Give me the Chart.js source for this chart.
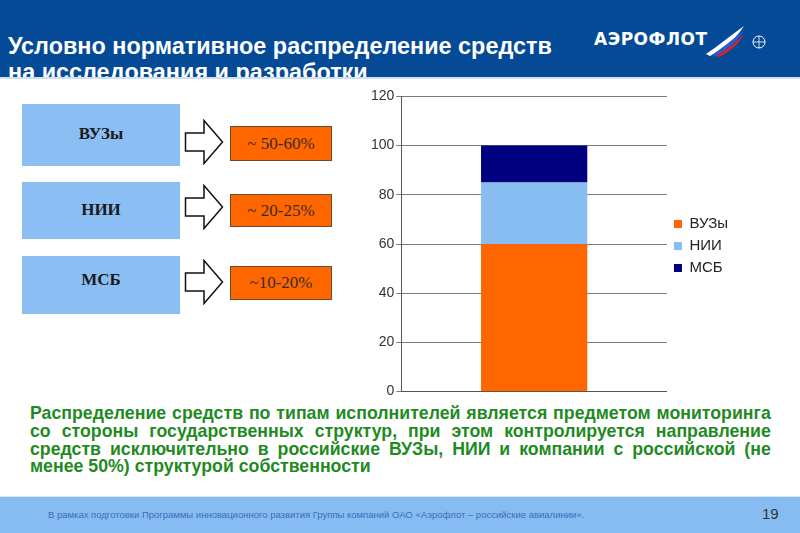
<!DOCTYPE html>
<html><head><meta charset="utf-8">
<script src="https://cdn.jsdelivr.net/npm/chart.js@4.4.0/dist/chart.umd.min.js"></script>
<style>
html,body{margin:0;padding:0;background:#fff;}
#slide{position:relative;width:800px;height:533px;overflow:hidden;background:#fff;font-family:"Liberation Sans",Arial,sans-serif;}
#header{position:absolute;left:0;top:0;width:800px;height:77px;background:#044a96;overflow:hidden;}
#hline{position:absolute;left:0;top:77px;width:800px;height:2px;background:#cfe0f2;}
.t1{position:absolute;left:8px;color:#fff;font-weight:bold;font-size:24px;white-space:nowrap;transform-origin:0 0;transform:scaleX(0.975);}
#logo{position:absolute;left:594px;top:29px;color:#fff;font-weight:bold;font-size:17px;letter-spacing:0.5px;font-family:"DejaVu Sans","Liberation Sans",sans-serif;}
.lbox{position:absolute;left:22px;width:158px;background:#8bbef3;font-family:"Liberation Serif","Times New Roman",serif;font-weight:bold;font-size:17px;color:#1a1a1a;text-align:center;}
.obox{position:absolute;left:230px;width:102px;background:#ff6600;border:1px solid #6b4a30;font-family:"Liberation Serif","Times New Roman",serif;font-size:17px;color:#3a2a20;text-align:center;box-sizing:border-box;}
.arrow{position:absolute;left:184px;width:40px;height:46px;}
#chartwrap{position:absolute;left:369px;top:86px;width:373px;height:316px;}
#para{position:absolute;left:30px;top:404px;width:794px;color:#1f8a1f;font-weight:bold;font-size:19px;line-height:17.8px;text-align:justify;transform-origin:0 0;transform:scaleX(0.933);}
#footer{position:absolute;left:0;top:496px;width:800px;height:37px;background:#86bcf2;border-top:1px solid #d6e8fa;}
#ftext{position:absolute;left:48px;top:12px;font-size:9.5px;color:#3b6fb3;white-space:nowrap;}
#pnum{position:absolute;left:762px;top:8px;font-size:15px;color:#333;}
</style></head>
<body>
<div id="slide">
  <div id="header">
    <div class="t1" style="top:32px;">Условно нормативное распределение средств</div>
    <div class="t1" style="top:58px;">на исследования и разработки</div>
    <div id="logo">АЭРОФЛОТ</div>
    <svg style="position:absolute;left:704px;top:24px" width="66" height="34" viewBox="0 0 66 34">
      <path d="M2 30 C14 22 26 12 40 2 C34 12 22 24 6 32 Z" fill="#fff"/>
      <path d="M8 31 C18 24 28 16 40 6 C36 14 26 24 12 32 Z" fill="#2a5bd0"/>
      <path d="M12 32 C22 26 30 20 40 10 C36 18 28 26 16 33 Z" fill="#d4242a"/>
      <circle cx="55" cy="18" r="6" fill="none" stroke="#fff" stroke-width="1"/>
      <path d="M49 18 H61 M55 12 V24" stroke="#fff" stroke-width="0.8"/>
    </svg>
  </div>
  <div id="hline"></div>

  <div class="lbox" style="top:104px;height:62px;line-height:60px;">ВУЗы</div>
  <div class="lbox" style="top:182px;height:57px;line-height:56px;">НИИ</div>
  <div class="lbox" style="top:256px;height:58px;line-height:48px;">МСБ</div>

  <svg class="arrow" style="top:119px" viewBox="0 0 40 46"><path d="M1.5 14 H20 V1.5 L38.5 23 L20 44.5 V32 H1.5 Z" fill="#fff" stroke="#111" stroke-width="1.5"/></svg>
  <svg class="arrow" style="top:184px" viewBox="0 0 40 46"><path d="M1.5 14 H20 V1.5 L38.5 23 L20 44.5 V32 H1.5 Z" fill="#fff" stroke="#111" stroke-width="1.5"/></svg>
  <svg class="arrow" style="top:259px" viewBox="0 0 40 46"><path d="M1.5 14 H20 V1.5 L38.5 23 L20 44.5 V32 H1.5 Z" fill="#fff" stroke="#111" stroke-width="1.5"/></svg>

  <div class="obox" style="top:126px;height:35px;line-height:33px;">~ 50-60%</div>
  <div class="obox" style="top:194px;height:33px;line-height:31px;">~ 20-25%</div>
  <div class="obox" style="top:266px;height:34px;line-height:32px;">~10-20%</div>

  <div id="chartwrap"><canvas id="c"></canvas></div>

  <div id="para">Распределение средств по типам исполнителей является предметом мониторинга со стороны государственных структур, при этом контролируется направление средств исключительно в российские ВУЗы, НИИ и компании с российской (не менее 50%) структурой собственности</div>

  <div id="footer">
    <div id="ftext">В рамках подготовки Программы инновационного развития Группы компаний ОАО «Аэрофлот – российские авиалинии».</div>
    <div id="pnum">19</div>
  </div>
</div>
<script>
const categories = [""];
const seriesNames = ["ВУЗы", "НИИ", "МСБ"];
const vuzValues = [60];
const niiValues = [25];
const msbValues = [15];
const yTicks = [0, 20, 40, 60, 80, 100, 120];
const colors = ["#ff6600", "#88bdf2", "#000080"];

new Chart(document.getElementById('c'), {
  type: 'bar',
  data: {
    labels: categories,
    datasets: [
      {label: seriesNames[0], data: vuzValues, backgroundColor: colors[0]},
      {label: seriesNames[1], data: niiValues, backgroundColor: colors[1]},
      {label: seriesNames[2], data: msbValues, backgroundColor: colors[2]}
    ]
  },
  options: {
    responsive: true,
    maintainAspectRatio: false,
    animation: false,
    devicePixelRatio: 1,
    layout: {padding: {top: 4, right: 4, bottom: 0, left: 0}},
    datasets: {bar: {categoryPercentage: 1.0, barPercentage: 0.4}},
    plugins: {
      legend: {
        position: 'right',
        labels: {boxWidth: 8, boxHeight: 8, padding: 7, color: '#222', font: {family: 'Liberation Sans, Arial, sans-serif', size: 15}}
      },
      tooltip: {enabled: false}
    },
    scales: {
      x: {
        stacked: true,
        ticks: {display: false},
        grid: {display: false},
        border: {display: true, color: '#555'}
      },
      y: {
        stacked: true,
        min: 0, max: 120,
        afterBuildTicks: (s) => { s.ticks = yTicks.map(v => ({value: v})); },
        ticks: {color: '#333', font: {family: 'Liberation Sans, Arial, sans-serif', size: 14}, padding: 2},
        grid: {color: '#7a7a7a', lineWidth: 1, tickLength: 5, drawOnChartArea: true},
        border: {display: true, color: '#555'}
      }
    }
  }
});
</script>
</body></html>
